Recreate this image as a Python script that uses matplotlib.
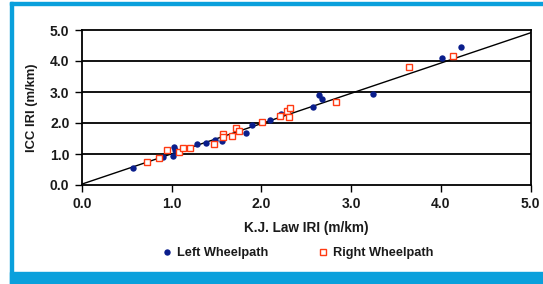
import matplotlib
matplotlib.use("Agg")
import matplotlib.pyplot as plt
from matplotlib.patches import Rectangle
from matplotlib.lines import Line2D
import numpy as np

left_x = [0.57, 0.90, 1.01, 1.02, 1.04, 1.28, 1.38, 1.48, 1.56, 1.83, 1.89, 2.10, 2.22, 2.57, 2.64, 2.68, 3.24, 4.01, 4.22]
left_y = [0.56, 0.89, 0.95, 1.21, 1.14, 1.32, 1.37, 1.45, 1.41, 1.67, 1.93, 2.10, 2.28, 2.53, 2.90, 2.79, 2.92, 4.11, 4.46]
right_x = [0.73, 0.86, 0.95, 1.08, 1.13, 1.20, 1.47, 1.57, 1.57, 1.67, 1.72, 1.75, 2.01, 2.21, 2.28, 2.31, 2.32, 2.83, 3.65, 4.13]
right_y = [0.75, 0.87, 1.12, 1.05, 1.19, 1.18, 1.32, 1.65, 1.55, 1.57, 1.83, 1.75, 2.02, 2.21, 2.40, 2.19, 2.47, 2.69, 3.82, 4.16]
fit_slope = 0.976
fit_intercept = 0.03
ticks = [0.0, 1.0, 2.0, 3.0, 4.0, 5.0]
tick_labels = ["0.0", "1.0", "2.0", "3.0", "4.0", "5.0"]

fam = ["Liberation Sans", "DejaVu Sans"]
plt.rcParams['font.family'] = fam
plt.rcParams['font.weight'] = 'bold'

W, H = 543, 284
fig = plt.figure(figsize=(W/100, H/100), dpi=100)
border = "#0AA0DC"
txt = "#1a1a1a"
# frame decorations
fig.patches.append(Rectangle((10/W, 0), (W-10)/W, 12/H, transform=fig.transFigure, color=border, zorder=0))
fig.patches.append(Rectangle((10/W, 0), 2.5/W, (H-2)/H, transform=fig.transFigure, color=border, zorder=0))
fig.patches.append(Rectangle((10/W, (H-4.5)/H), (W-10)/W, 2.5/H, transform=fig.transFigure, color=border, zorder=0))

ax = fig.add_axes([82/W, 1-185/H, (530.6-82)/W, (185-30)/H])
ax.set_xlim(0, 5)
ax.set_ylim(0, 5)
for y in [1, 2, 3, 4]:
    ax.axhline(y, color='black', lw=1.3, zorder=1)
xs = np.array([0, 5])
ax.plot(xs, fit_slope*xs + fit_intercept, color='black', lw=1.0, zorder=2)
ax.plot(left_x, left_y, 'o', color='#0A1E8C', markersize=4.6, markeredgewidth=0, zorder=3)
ax.plot(right_x, right_y, 's', markerfacecolor='white', markeredgecolor='#FF3A12', markersize=5, markeredgewidth=1.0, zorder=4)

for s in ax.spines.values():
    s.set_linewidth(1.3)
ax.set_xticks(ticks)
ax.set_xticklabels(tick_labels)
ax.set_yticks(ticks)
ax.set_yticklabels(tick_labels)
ax.tick_params(axis='both', direction='out', length=5, width=1.0, labelsize=10, pad=4, labelcolor=txt)
for lab in ax.get_xticklabels() + ax.get_yticklabels():
    lab.set_fontweight('bold')
ax.set_xlabel("K.J. Law IRI (m/km)", fontsize=9.8, fontweight='bold', labelpad=7, color=txt)
ax.set_ylabel("ICC IRI (m/km)", fontsize=9.4, fontweight='bold', labelpad=9, color=txt)

handles = [Line2D([], [], marker='o', ls='none', color='#0A1E8C', markersize=4.6, markeredgewidth=0),
           Line2D([], [], marker='s', ls='none', markerfacecolor='white', markeredgecolor='#FF3A12', markersize=5, markeredgewidth=1.0)]
leg = fig.legend(handles, ["Left Wheelpath", "Right Wheelpath"], loc='center', bbox_to_anchor=(297/W, 1-253/H),
           ncol=2, frameon=False, prop={'size': 9.2, 'weight': 'bold', 'family': fam},
           handletextpad=0.3, columnspacing=3.8, handlelength=1.0)
for t in leg.get_texts():
    t.set_color(txt)

fig.savefig("out.png", dpi=100)
